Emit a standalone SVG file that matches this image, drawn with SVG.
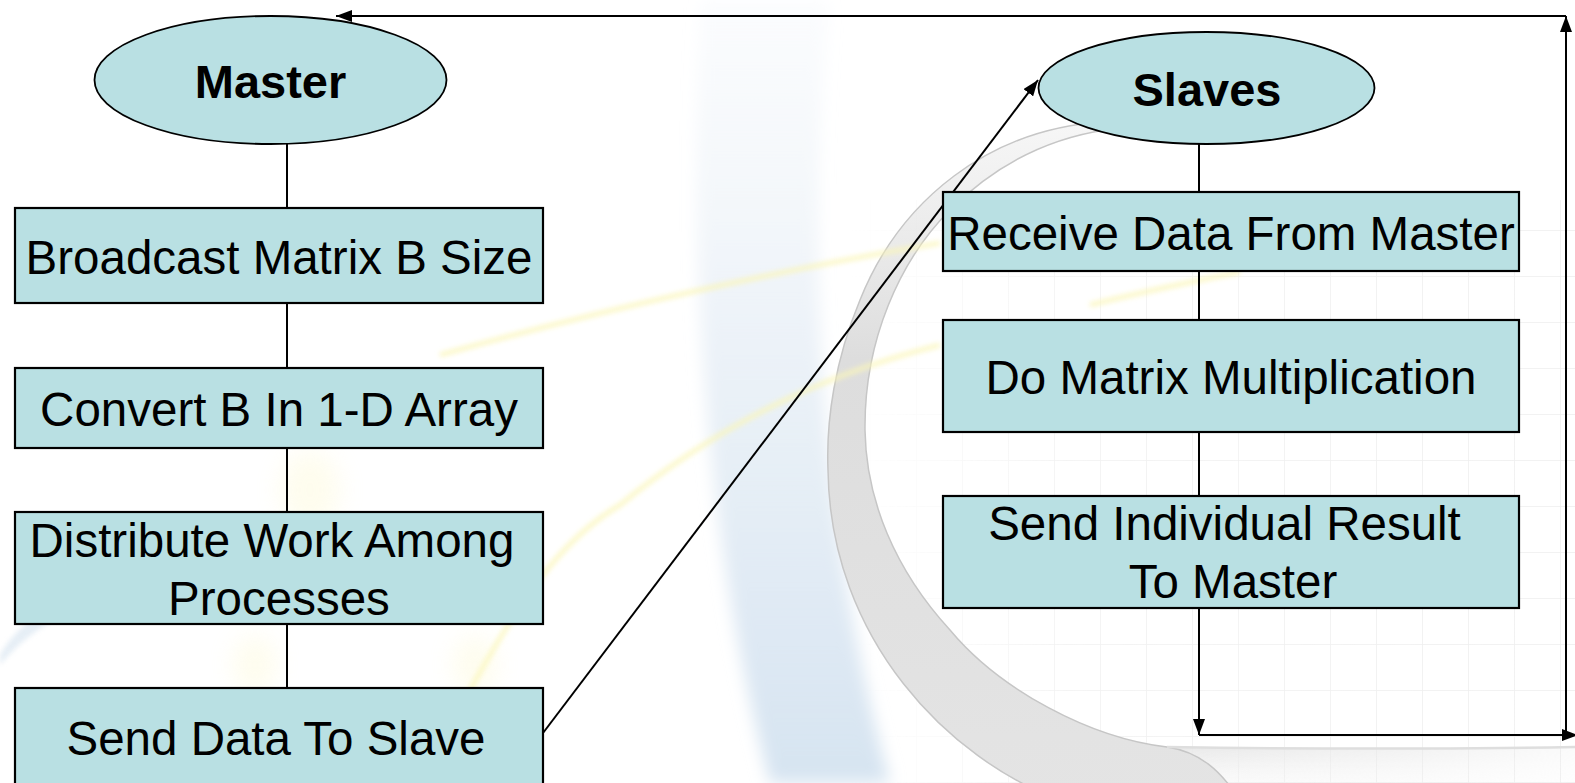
<svg xmlns="http://www.w3.org/2000/svg" width="1575" height="783" viewBox="0 0 1575 783">
<defs>
<style>
.box{fill:#b9e0e3;stroke:#000;stroke-width:2.2}
.ell{fill:#b9e0e3;stroke:#000;stroke-width:1.8}
.t{font-family:"Liberation Sans",Arial,sans-serif;font-size:47.5px;fill:#000;text-anchor:middle}
.tb{font-family:"Liberation Sans",Arial,sans-serif;font-size:47px;font-weight:bold;fill:#000;text-anchor:middle}
.c{fill:none;stroke:#000;stroke-width:2}
.ca{fill:none;stroke:#000;stroke-width:2;marker-end:url(#arr)}
.ys{fill:none;stroke:#fbf6b8;stroke-width:5;opacity:0.75}
.glow{fill:#fdf8c8;opacity:0.3}
</style>
<marker id="arr" viewBox="0 0 16 12" refX="16" refY="6" markerWidth="16" markerHeight="12" markerUnits="userSpaceOnUse" orient="auto">
<path d="M0,0 L16,6 L0,12 z" fill="#000"/>
</marker>
<filter id="blur8" x="-50%" y="-50%" width="200%" height="200%"><feGaussianBlur stdDeviation="8"/></filter>
<filter id="blur3" x="-50%" y="-50%" width="200%" height="200%"><feGaussianBlur stdDeviation="2.5"/></filter>
<filter id="blur12" x="-50%" y="-50%" width="200%" height="200%"><feGaussianBlur stdDeviation="12"/></filter>
<linearGradient id="blueg" x1="0" y1="0" x2="0" y2="1">
<stop offset="0" stop-color="#e6eef6" stop-opacity="0.15"/>
<stop offset="0.45" stop-color="#dfe9f3" stop-opacity="0.6"/>
<stop offset="1" stop-color="#d6e4f1" stop-opacity="1"/>
</linearGradient>
<linearGradient id="ringg" x1="0" y1="0" x2="0" y2="1">
<stop offset="0" stop-color="#e2e2e2" stop-opacity="0.3"/>
<stop offset="0.35" stop-color="#dddddd" stop-opacity="1"/>
<stop offset="1" stop-color="#e4e4e4" stop-opacity="1"/>
</linearGradient>
<linearGradient id="stripg" x1="0" y1="0" x2="0" y2="1">
<stop offset="0" stop-color="#e6e6e6" stop-opacity="0.9"/>
<stop offset="1" stop-color="#f2f2f2" stop-opacity="0.3"/>
</linearGradient>
<linearGradient id="stripfade" x1="0" y1="0" x2="1" y2="0">
<stop offset="0" stop-color="#fff" stop-opacity="1"/>
<stop offset="0.6" stop-color="#fff" stop-opacity="0.6"/>
<stop offset="1" stop-color="#fff" stop-opacity="0.2"/>
</linearGradient>
<mask id="sm"><rect x="1150" y="740" width="425" height="50" fill="url(#stripfade)"/></mask>
<pattern id="grid" width="46" height="46" patternUnits="userSpaceOnUse" x="870" y="230">
<path d="M46,0 L0,0 0,46" fill="none" stroke="#e9e9e9" stroke-width="1.5"/>
</pattern>
<linearGradient id="gridfade" x1="0" y1="0" x2="1" y2="0">
<stop offset="0" stop-color="#fff" stop-opacity="0"/>
<stop offset="0.3" stop-color="#fff" stop-opacity="0.8"/>
<stop offset="1" stop-color="#fff" stop-opacity="1"/>
</linearGradient>
<mask id="gm"><rect x="850" y="200" width="725" height="583" fill="url(#gridfade)"/></mask>
</defs>
<rect width="1575" height="783" fill="#fff"/>
<g id="background">
<rect x="850" y="200" width="725" height="583" fill="url(#grid)" mask="url(#gm)" opacity="0.8"/>
<path d="M700,0 C690,250 700,520 770,783 L890,783 C830,560 800,300 830,0 Z" fill="url(#blueg)" filter="url(#blur8)"/>
<path d="M0,655 C20,620 60,595 110,585 L110,600 C60,610 25,635 0,665 Z" fill="#dbe7f2" filter="url(#blur3)" opacity="0.7"/>
<rect x="1150" y="748" width="425" height="40" fill="url(#stripg)" mask="url(#sm)"/>
<path d="M1105,122 C990,128 900,200 860,300 C835,360 826,420 828,470 C830,640 950,760 1060,800 L1240,800 C1220,770 1200,752 1167,747 C1090,738 1000,690 950,630 C895,570 866,500 865,430 C864,340 900,260 950,210 C990,170 1040,140 1105,130 Z" fill="url(#ringg)" stroke="#c6c6c6" stroke-width="1.5"/>
<path d="M1167,747 C1300,749 1450,749 1575,747" fill="none" stroke="#dedede" stroke-width="2.5"/>
<ellipse class="glow" cx="310" cy="490" rx="30" ry="40" filter="url(#blur12)"/>
<ellipse class="glow" cx="255" cy="665" rx="22" ry="30" filter="url(#blur12)"/>
<ellipse class="glow" cx="475" cy="665" rx="22" ry="30" filter="url(#blur12)"/>
<path class="ys" d="M440,355 C600,310 780,270 940,243" filter="url(#blur3)"/>
<path class="ys" d="M470,690 C520,600 560,540 620,505 C700,440 800,380 940,345 M1090,305 C1150,290 1200,280 1240,272" filter="url(#blur3)"/>
</g>
<g id="connectors">
<line class="c" x1="287" y1="144" x2="287" y2="208"/>
<line class="c" x1="287" y1="303" x2="287" y2="368"/>
<line class="c" x1="287" y1="448" x2="287" y2="512"/>
<line class="c" x1="287" y1="624" x2="287" y2="688"/>
<line class="ca" x1="543" y1="733" x2="1038" y2="80"/>
<line class="c" x1="1199" y1="144" x2="1199" y2="192"/>
<line class="c" x1="1199" y1="271" x2="1199" y2="320"/>
<line class="c" x1="1199" y1="432" x2="1199" y2="496"/>
<line class="ca" x1="1199" y1="608" x2="1199" y2="735"/>
<line class="ca" x1="1199" y1="735" x2="1578" y2="735"/>
<line class="ca" x1="1566" y1="735" x2="1566" y2="16"/>
<line class="ca" x1="1566" y1="16" x2="336" y2="16"/>
</g>
<g id="master">
<ellipse class="ell" cx="270.5" cy="80" rx="176" ry="64"/>
<text class="tb" x="270.5" y="98">Master</text>
</g>
<g id="broadcast">
<rect class="box" x="15" y="208" width="528" height="95"/>
<text class="t" x="279" y="274">Broadcast Matrix B Size</text>
</g>
<g id="convert">
<rect class="box" x="15" y="368" width="528" height="80"/>
<text class="t" x="279" y="426">Convert B In 1-D Array</text>
</g>
<g id="distribute">
<rect class="box" x="15" y="512" width="528" height="112"/>
<text class="t" x="272" y="557">Distribute Work Among</text>
<text class="t" x="279" y="615">Processes</text>
</g>
<g id="senddata">
<rect class="box" x="15" y="688" width="528" height="100"/>
<text class="t" x="276" y="755">Send Data To Slave</text>
</g>
<g id="slaves">
<ellipse class="ell" cx="1206.5" cy="88" rx="168" ry="56"/>
<text class="tb" x="1207" y="106">Slaves</text>
</g>
<g id="receive">
<rect class="box" x="943" y="192" width="576" height="79"/>
<text class="t" x="1231" y="250">Receive Data From Master</text>
</g>
<g id="multiply">
<rect class="box" x="943" y="320" width="576" height="112"/>
<text class="t" x="1231" y="394">Do Matrix Multiplication</text>
</g>
<g id="sendresult">
<rect class="box" x="943" y="496" width="576" height="112"/>
<text class="t" x="1224.5" y="540">Send Individual Result</text>
<text class="t" x="1233" y="598">To Master</text>
</g>
</svg>
